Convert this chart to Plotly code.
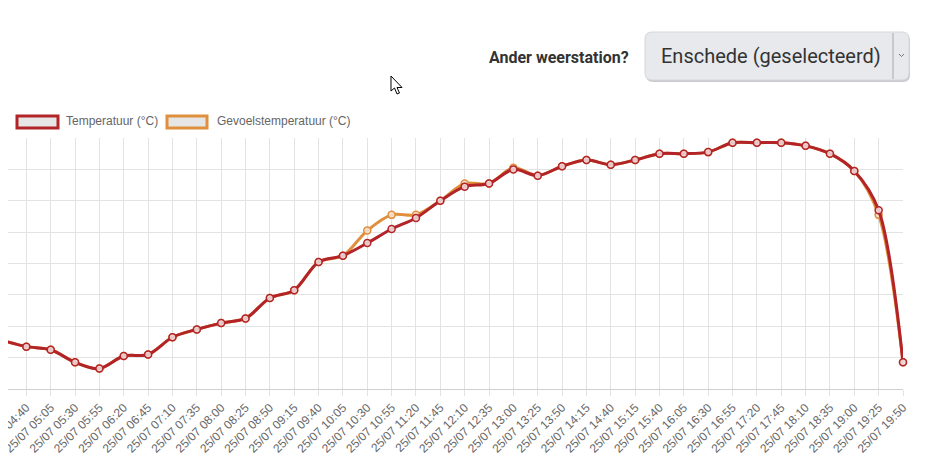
import plotly.graph_objects as go

# 25/07 metingen, elke 25 minuten (gat tussen 14:40 en 15:15)
tijden = [
    "25/07 04:15", "25/07 04:40", "25/07 05:05", "25/07 05:30", "25/07 05:55",
    "25/07 06:20", "25/07 06:45", "25/07 07:10", "25/07 07:35", "25/07 08:00",
    "25/07 08:25", "25/07 08:50", "25/07 09:15", "25/07 09:40", "25/07 10:05",
    "25/07 10:30", "25/07 10:55", "25/07 11:20", "25/07 11:45", "25/07 12:10",
    "25/07 12:35", "25/07 13:00", "25/07 13:25", "25/07 13:50", "25/07 14:15",
    "25/07 14:40", "25/07 15:15", "25/07 15:40", "25/07 16:05", "25/07 16:30",
    "25/07 16:55", "25/07 17:20", "25/07 17:45", "25/07 18:10", "25/07 18:35",
    "25/07 19:00", "25/07 19:25", "25/07 19:50",
]
temperatuur = [
    21.1, 20.7, 20.5, 19.7, 19.3, 20.1, 20.2, 21.3, 21.8, 22.2,
    22.5, 23.8, 24.3, 26.1, 26.5, 27.3, 28.2, 28.9, 30.0, 30.9,
    31.1, 32.0, 31.6, 32.2, 32.6, 32.3, 32.6, 33.0, 33.0, 33.1,
    33.7, 33.7, 33.7, 33.5, 33.0, 31.9, 29.4, 19.7,
]
gevoelstemperatuur = [
    21.1, 20.7, 20.5, 19.7, 19.3, 20.1, 20.2, 21.3, 21.8, 22.2,
    22.5, 23.8, 24.3, 26.1, 26.5, 28.1, 29.1, 29.1, 30.0, 31.1,
    31.1, 32.1, 31.6, 32.2, 32.6, 32.3, 32.6, 33.0, 33.0, 33.1,
    33.7, 33.7, 33.7, 33.5, 33.0, 31.9, 29.1, 19.7,
]
reeksen = ["Temperatuur (°C)", "Gevoelstemperatuur (°C)"]
station = "Enschede (geselecteerd)"

ROOD = "#b22427"
ORANJE = "#e08f3c"

# de pagina heeft 8px body-marge; posities hieronder zijn vensterpixels
OFF = 8
W, H = 931, 471
L, R, T, B = 0, 931 - (903 - OFF), 138 - OFF, 471 - (389 - OFF)
PW, PH = W - L - R, H - T - B

# categorie 0 ligt in het venster op x=2, net links van het plotvlak
stap = (903 - 2) / (len(tijden) - 1)
x_start = (OFF - 2) / stap


def px(x):
    return (x - OFF - L) / PW


def py(y):
    return (H - B - (y - OFF)) / PH


fig = go.Figure()
fig.add_trace(go.Scatter(
    x=tijden, y=gevoelstemperatuur, name=reeksen[1], mode="lines+markers",
    line=dict(color=ORANJE, width=3, shape="spline", smoothing=0.9),
    marker=dict(size=7, color="rgba(245,225,205,0.9)", line=dict(color=ORANJE, width=1.5)),
    cliponaxis=False,
))
fig.add_trace(go.Scatter(
    x=tijden, y=temperatuur, name=reeksen[0], mode="lines+markers",
    line=dict(color=ROOD, width=3, shape="spline", smoothing=0.9),
    marker=dict(size=7, color="rgba(240,215,215,0.9)", line=dict(color=ROOD, width=1.5)),
    cliponaxis=False,
))

shapes = []
annotations = []

# legenda in Chart.js-stijl
for x0, x1, tx, kleur, naam in [(17, 58, 64, ROOD, reeksen[0]), (167, 207, 215, ORANJE, reeksen[1])]:
    shapes.append(dict(type="rect", xref="paper", yref="paper",
                       x0=px(x0), x1=px(x1), y0=py(116), y1=py(128),
                       fillcolor="#e6e6e6", line=dict(color=kleur, width=3)))
    annotations.append(dict(text=naam, xref="paper", yref="paper", x=px(tx), y=py(121),
                            xanchor="left", yanchor="middle", showarrow=False,
                            font=dict(family="Liberation Sans, Arial", size=12, color="#666")))

# keuzelijst weerstation
annotations.append(dict(text="<b>Ander weerstation?</b>", xref="paper", yref="paper",
                        x=px(631), y=py(57), xanchor="right", yanchor="middle", showarrow=False,
                        font=dict(family="Roboto", size=16, color="#333")))


def rond_pad(x0, y0, x1, y1, r):
    pts = [
        (x0 + r, y0), (x1 - r, y0), ("Q", x1, y0, x1, y0 + r), (x1, y1 - r),
        ("Q", x1, y1, x1 - r, y1), (x0 + r, y1), ("Q", x0, y1, x0, y1 - r),
        (x0, y0 + r), ("Q", x0, y0, x0 + r, y0),
    ]
    d = "M{:.5f},{:.5f}".format(px(pts[0][0]), py(pts[0][1]))
    for p in pts[1:]:
        if p[0] == "Q":
            d += " Q{:.5f},{:.5f} {:.5f},{:.5f}".format(px(p[1]), py(p[2]), px(p[3]), py(p[4]))
        else:
            d += " L{:.5f},{:.5f}".format(px(p[0]), py(p[1]))
    return d + " Z"


shapes.append(dict(type="path", xref="paper", yref="paper", path=rond_pad(646, 34, 910, 82, 7),
                   fillcolor="#c9c9cf", line=dict(width=0)))
shapes.append(dict(type="path", xref="paper", yref="paper", path=rond_pad(645, 32, 909, 80, 7),
                   fillcolor="#e8e9ed", line=dict(color="#d6d7dc", width=1)))
shapes.append(dict(type="line", xref="paper", yref="paper", x0=px(893), x1=px(893), y0=py(33), y1=py(79),
                   line=dict(color="#a9a9ae", width=1)))
shapes.append(dict(type="path", xref="paper", yref="paper",
                   path="M{:.5f},{:.5f} L{:.5f},{:.5f} L{:.5f},{:.5f}".format(
                       px(899), py(54), px(901.5), py(56.5), px(904), py(54)),
                   line=dict(color="#777", width=1)))
annotations.append(dict(text=station, xref="paper", yref="paper", x=px(659), y=py(56),
                        xanchor="left", yanchor="middle", showarrow=False,
                        font=dict(family="Roboto", size=20, color="#333")))

# muiscursor
shapes.append(dict(type="path", xref="paper", yref="paper",
                   path="M{:.5f},{:.5f} L{:.5f},{:.5f} L{:.5f},{:.5f} L{:.5f},{:.5f} L{:.5f},{:.5f} "
                        "L{:.5f},{:.5f} L{:.5f},{:.5f} Z".format(
                       px(391), py(76), px(391), py(91), px(394.5), py(88), px(397), py(94),
                       px(399.5), py(93), px(397), py(87.5), px(402), py(87.5)),
                   fillcolor="white", line=dict(color="black", width=1)))

fig.update_layout(
    width=W, height=H,
    margin=dict(l=L, r=R, t=T, b=B, autoexpand=False),
    paper_bgcolor="white", plot_bgcolor="white",
    showlegend=False,
    shapes=shapes, annotations=annotations,
    xaxis=dict(type="category", range=[x_start, len(tijden) - 1], tickangle=-45, automargin=False,
               showgrid=True, gridcolor="#e3e3e3", gridwidth=1,
               showline=True, linecolor="#d0d0d0",
               ticks="outside", ticklen=6, tickcolor="#e3e3e3",
               tickfont=dict(family="Liberation Sans, Arial", size=12, color="#666")),
    yaxis=dict(range=[18, 34], dtick=2, showticklabels=False, zeroline=False, automargin=False,
               showgrid=True, gridcolor="#e3e3e3", gridwidth=1),
)

fig.write_html("out.html")
